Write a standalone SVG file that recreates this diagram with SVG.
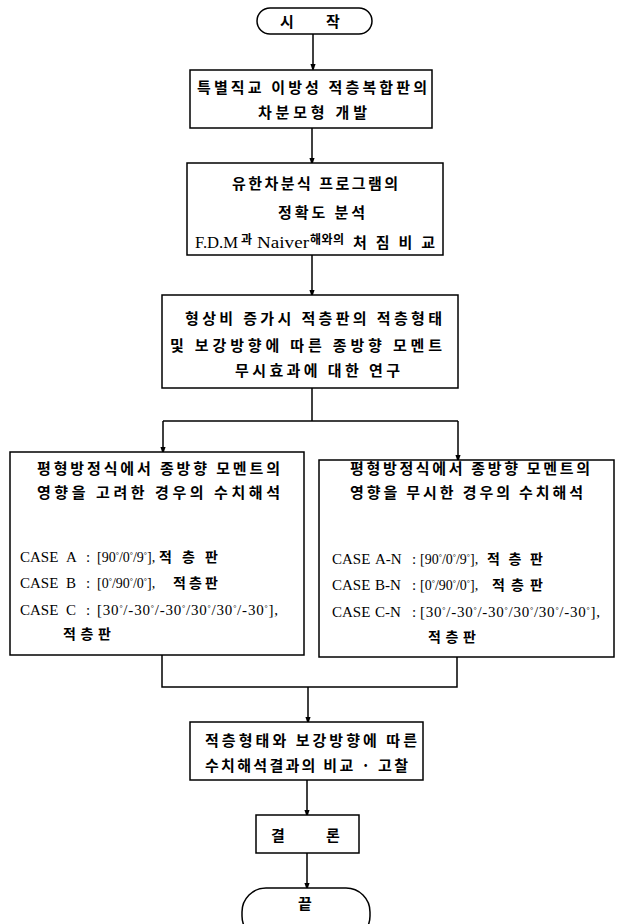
<svg xmlns="http://www.w3.org/2000/svg" width="626" height="924" viewBox="0 0 626 924">
<style>
.box{fill:#fff;stroke:#000;stroke-width:1.5}
.k{font-family:"Noto Sans CJK KR","Noto Sans CJK SC",sans-serif;font-size:15px;font-weight:bold;fill:#000}
.k14{font-family:"Noto Sans CJK KR","Noto Sans CJK SC",sans-serif;font-size:14px;font-weight:bold;fill:#000}
.ks{font-family:"Noto Sans CJK KR","Noto Sans CJK SC",sans-serif;font-size:12px;font-weight:bold;fill:#000}
.s{font-family:"Liberation Serif","Times New Roman",serif;font-size:15px;fill:#000}
.b{font-family:"Liberation Serif","Times New Roman",serif;font-size:14px;fill:#000}
.d{font-size:8px}
.c{fill:none;stroke:#000;stroke-width:1.5}
</style>
<defs>
<marker id="ah" markerWidth="8" markerHeight="12" refX="8" refY="4" orient="auto" markerUnits="userSpaceOnUse" viewBox="0 0 12 8">
<path d="M0,0 L12,4 L0,8 Z" fill="#000"/>
</marker>
</defs>
<rect width="626" height="924" fill="#fff"/>
<g id="connectors">
<line class="c" x1="313" y1="34" x2="313" y2="69" marker-end="url(#ah)"/>
<line class="c" x1="312" y1="128" x2="312" y2="163" marker-end="url(#ah)"/>
<line class="c" x1="312" y1="255" x2="312" y2="295" marker-end="url(#ah)"/>
<polyline class="c" points="312,388 312,421"/>
<polyline class="c" points="163,421 458,421"/>
<line class="c" x1="163" y1="421" x2="163" y2="452" marker-end="url(#ah)"/>
<line class="c" x1="458" y1="421" x2="458" y2="460" marker-end="url(#ah)"/>
<polyline class="c" points="162,655 162,687 457,687 457,657"/>
<line class="c" x1="308" y1="687" x2="308" y2="722" marker-end="url(#ah)"/>
<line class="c" x1="307" y1="780" x2="307" y2="815" marker-end="url(#ah)"/>
<line class="c" x1="307" y1="853" x2="307" y2="888" marker-end="url(#ah)"/>
</g>
<g id="start">
<rect class="box" x="257" y="8" width="115" height="26" rx="13"/>
<text class="k" x="287" y="26.5" text-anchor="middle">시</text>
<text class="k" x="333" y="26.5" text-anchor="middle">작</text>
</g>
<g id="n1">
<rect class="box" x="190" y="70" width="242" height="58"/>
<text class="k" x="197" y="92.5" textLength="230" lengthAdjust="spacing">특별직교 이방성 적층복합판의</text>
<text class="k" x="258" y="117.5" textLength="109" lengthAdjust="spacing">차분모형 개발</text>
</g>
<g id="n2">
<rect class="box" x="187" y="163" width="256" height="92"/>
<text class="k" x="232" y="188.5" textLength="166" lengthAdjust="spacing">유한차분식 프로그램의</text>
<text class="k" x="278" y="217.5" textLength="87" lengthAdjust="spacing">정확도 분석</text>
<text class="s" x="195" y="247.5" style="font-size:16px" textLength="43" lengthAdjust="spacingAndGlyphs">F.D.M</text>
<text class="ks" x="241" y="244">과</text>
<text class="s" x="257" y="247.5" style="font-size:16px" textLength="52" lengthAdjust="spacingAndGlyphs">Naiver</text>
<text class="ks" x="310" y="244" textLength="34" lengthAdjust="spacing">해와의</text>
<text class="k" x="353" y="247.5" textLength="82" lengthAdjust="spacing">처짐비교</text>
</g>
<g id="n3">
<rect class="box" x="162" y="295" width="296" height="93"/>
<text class="k" x="185" y="323.5" textLength="257" lengthAdjust="spacing">형상비 증가시 적층판의 적층형태</text>
<text class="k" x="170" y="350.5" textLength="272" lengthAdjust="spacing">및 보강방향에 따른 종방향 모멘트</text>
<text class="k" x="235" y="375.5" textLength="165" lengthAdjust="spacing">무시효과에 대한 연구</text>
</g>
<g id="left">
<rect class="box" x="10" y="452" width="294" height="203"/>
<text class="k" x="37" y="473.5" textLength="243" lengthAdjust="spacing">평형방정식에서 종방향 모멘트의</text>
<text class="k" x="37" y="497.5" textLength="243" lengthAdjust="spacing">영향을 고려한 경우의 수치해석</text>
<text class="s" x="20" y="562">CASE</text><text class="s" x="66" y="562">A</text><text class="s" x="86" y="562">:</text>
<text class="b" x="97" y="562">[90<tspan class="d" dy="-4">°</tspan><tspan dy="4">/0</tspan><tspan class="d" dy="-4">°</tspan><tspan dy="4">/9</tspan><tspan class="d" dy="-4">°</tspan><tspan dy="4">],</tspan></text>
<text class="k14" x="159" y="562" textLength="59" lengthAdjust="spacing">적층판</text>
<text class="s" x="20" y="588">CASE</text><text class="s" x="66" y="588">B</text><text class="s" x="86" y="588">:</text>
<text class="b" x="97" y="588">[0<tspan class="d" dy="-4">°</tspan><tspan dy="4">/90</tspan><tspan class="d" dy="-4">°</tspan><tspan dy="4">/0</tspan><tspan class="d" dy="-4">°</tspan><tspan dy="4">],</tspan></text>
<text class="k14" x="173" y="588" textLength="45" lengthAdjust="spacing">적층판</text>
<text class="s" x="20" y="615">CASE</text><text class="s" x="66" y="615">C</text><text class="s" x="86" y="615">:</text>
<text class="s" x="97" y="615" textLength="181" lengthAdjust="spacing">[30<tspan class="d" dy="-4">°</tspan><tspan dy="4">/-30</tspan><tspan class="d" dy="-4">°</tspan><tspan dy="4">/-30</tspan><tspan class="d" dy="-4">°</tspan><tspan dy="4">/30</tspan><tspan class="d" dy="-4">°</tspan><tspan dy="4">/30</tspan><tspan class="d" dy="-4">°</tspan><tspan dy="4">/-30</tspan><tspan class="d" dy="-4">°</tspan><tspan dy="4">],</tspan></text>
<text class="k14" x="63" y="639" textLength="48" lengthAdjust="spacing">적층판</text>
</g>
<g id="right">
<rect class="box" x="319" y="460" width="295" height="197"/>
<text class="k" x="350" y="473.5" textLength="240" lengthAdjust="spacing">평형방정식에서 종방향 모멘트의</text>
<text class="k" x="350" y="497.5" textLength="233" lengthAdjust="spacing">영향을 무시한 경우의 수치해석</text>
<text class="s" x="332" y="564">CASE</text><text class="s" x="375" y="564">A-N</text><text class="s" x="412" y="564">:</text>
<text class="b" x="420" y="564">[90<tspan class="d" dy="-4">°</tspan><tspan dy="4">/0</tspan><tspan class="d" dy="-4">°</tspan><tspan dy="4">/9</tspan><tspan class="d" dy="-4">°</tspan><tspan dy="4">],</tspan></text>
<text class="k14" x="487" y="564" textLength="56" lengthAdjust="spacing">적층판</text>
<text class="s" x="332" y="590">CASE</text><text class="s" x="375" y="590">B-N</text><text class="s" x="412" y="590">:</text>
<text class="b" x="420" y="590">[0<tspan class="d" dy="-4">°</tspan><tspan dy="4">/90</tspan><tspan class="d" dy="-4">°</tspan><tspan dy="4">/0</tspan><tspan class="d" dy="-4">°</tspan><tspan dy="4">],</tspan></text>
<text class="k14" x="492" y="590" textLength="51" lengthAdjust="spacing">적층판</text>
<text class="s" x="332" y="617">CASE</text><text class="s" x="375" y="617">C-N</text><text class="s" x="412" y="617">:</text>
<text class="s" x="420" y="617" textLength="180" lengthAdjust="spacing">[30<tspan class="d" dy="-4">°</tspan><tspan dy="4">/-30</tspan><tspan class="d" dy="-4">°</tspan><tspan dy="4">/-30</tspan><tspan class="d" dy="-4">°</tspan><tspan dy="4">/30</tspan><tspan class="d" dy="-4">°</tspan><tspan dy="4">/30</tspan><tspan class="d" dy="-4">°</tspan><tspan dy="4">/-30</tspan><tspan class="d" dy="-4">°</tspan><tspan dy="4">],</tspan></text>
<text class="k14" x="428" y="642" textLength="48" lengthAdjust="spacing">적층판</text>
</g>
<g id="n4">
<rect class="box" x="190" y="722" width="233" height="58"/>
<text class="k" x="205" y="745.5" textLength="212" lengthAdjust="spacing">적층형태와 보강방향에 따른</text>
<text class="k" x="205" y="770.5" textLength="203" lengthAdjust="spacing">수치해석결과의 비교 · 고찰</text>
</g>
<g id="n5">
<rect class="box" x="256" y="815" width="103" height="38"/>
<text class="k" x="278" y="840.5" text-anchor="middle">결</text>
<text class="k" x="333" y="840.5" text-anchor="middle">론</text>
</g>
<g id="end">
<rect class="box" x="242" y="888" width="128" height="52" rx="24"/>
<text class="k" x="305" y="909" text-anchor="middle">끝</text>
</g>
</svg>
